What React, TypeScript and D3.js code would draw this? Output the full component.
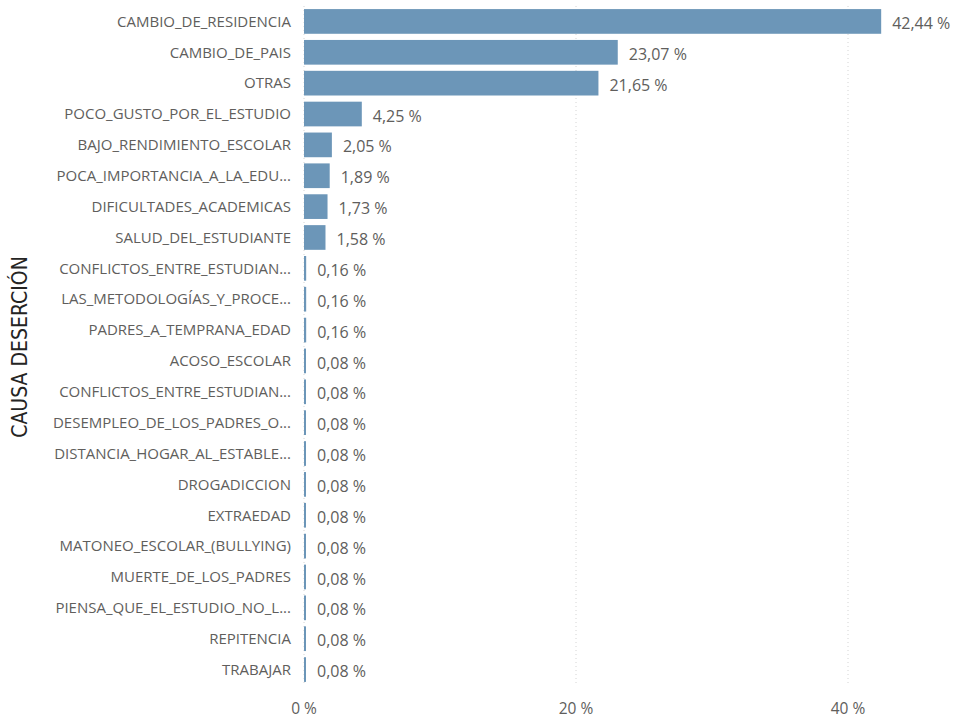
import React, { useEffect, useRef } from 'react';
import * as d3 from 'd3';

// categorías y valores (%)
const causas = [
  'CAMBIO_DE_RESIDENCIA',
  'CAMBIO_DE_PAIS',
  'OTRAS',
  'POCO_GUSTO_POR_EL_ESTUDIO',
  'BAJO_RENDIMIENTO_ESCOLAR',
  'POCA_IMPORTANCIA_A_LA_EDU...',
  'DIFICULTADES_ACADEMICAS',
  'SALUD_DEL_ESTUDIANTE',
  'CONFLICTOS_ENTRE_ESTUDIAN...',
  'LAS_METODOLOGÍAS_Y_PROCE...',
  'PADRES_A_TEMPRANA_EDAD',
  'ACOSO_ESCOLAR',
  'CONFLICTOS_ENTRE_ESTUDIAN... ',
  'DESEMPLEO_DE_LOS_PADRES_O...',
  'DISTANCIA_HOGAR_AL_ESTABLE...',
  'DROGADICCION',
  'EXTRAEDAD',
  'MATONEO_ESCOLAR_(BULLYING)',
  'MUERTE_DE_LOS_PADRES',
  'PIENSA_QUE_EL_ESTUDIO_NO_L...',
  'REPITENCIA',
  'TRABAJAR',
];
const porcentajes = [
  42.44, 23.07, 21.65, 4.25, 2.05, 1.89, 1.73, 1.58, 0.16, 0.16, 0.16, 0.08, 0.08, 0.08, 0.08, 0.08, 0.08, 0.08,
  0.08, 0.08, 0.08, 0.08,
];
const ticks = [0, 20, 40];

const W = 955;
const H = 719;
const margin = { top: 6, right: 0, bottom: 34, left: 304 };
const plotRight = 304 + 272 * 2.5; // 50 %

const fmt = (v: number) => v.toFixed(2).replace('.', ',') + ' %';
const font = '"Segoe UI", "Open Sans", sans-serif';

const Chart: React.FC = () => {
  const ref = useRef<SVGSVGElement>(null);

  useEffect(() => {
    if (!ref.current) return;
    const svg = d3.select(ref.current);
    svg.selectAll('*').remove();

    const x = d3.scaleLinear().domain([0, 50]).range([margin.left, plotRight]);
    const y = d3
      .scaleBand()
      .domain(causas)
      .range([margin.top, H - margin.bottom])
      .paddingInner(0.2)
      .paddingOuter(0.1);

    // líneas de cuadrícula punteadas
    svg
      .append('g')
      .selectAll('line')
      .data(ticks)
      .join('line')
      .attr('x1', (d) => x(d))
      .attr('x2', (d) => x(d))
      .attr('y1', margin.top)
      .attr('y2', H - margin.bottom)
      .attr('stroke', '#d4d4d4')
      .attr('stroke-width', 1)
      .attr('stroke-dasharray', '1,3');

    // barras
    svg
      .append('g')
      .selectAll('rect')
      .data(causas)
      .join('rect')
      .attr('x', x(0))
      .attr('y', (d) => y(d)!)
      .attr('width', (d, i) => Math.max(2, x(porcentajes[i]) - x(0)))
      .attr('height', y.bandwidth())
      .attr('fill', '#6c96b8');

    // etiquetas de valor
    svg
      .append('g')
      .selectAll('text')
      .data(causas)
      .join('text')
      .attr('x', (d, i) => Math.max(x(0) + 2, x(porcentajes[i])) + 11)
      .attr('y', (d) => y(d)! + y.bandwidth() / 2 + 2)
      .attr('dy', '0.35em')
      .attr('fill', '#605e5c')
      .style('font-family', font)
      .style('font-size', '16px')
      .text((d, i) => fmt(porcentajes[i]));

    // etiquetas de categoría
    svg
      .append('g')
      .selectAll('text')
      .data(causas)
      .join('text')
      .attr('x', 291)
      .attr('y', (d) => y(d)! + y.bandwidth() / 2)
      .attr('dy', '0.35em')
      .attr('text-anchor', 'end')
      .attr('fill', '#605e5c')
      .style('font-family', font)
      .style('font-size', '15px')
      .text((d) => d.trim());

    // eje x
    svg
      .append('g')
      .selectAll('text')
      .data(ticks)
      .join('text')
      .attr('x', (d) => x(d))
      .attr('y', 709)
      .attr('dy', '0.35em')
      .attr('text-anchor', 'middle')
      .attr('fill', '#605e5c')
      .style('font-family', font)
      .style('font-size', '15.5px')
      .text((d) => d + ' %');

    // título del eje y
    svg
      .append('text')
      .attr('transform', `translate(27,347) rotate(-90)`)
      .attr('text-anchor', 'middle')
      .attr('fill', '#252423')
      .style('font-family', '"DejaVu Sans", sans-serif')
      .style('font-stretch', 'condensed')
      .style('font-size', '21px')
      .text('CAUSA DESERCIÓN');
  }, []);

  return <svg ref={ref} width={W} height={H} style={{ display: 'block' }} />;
};

export default function App() {
  return (
    <div style={{ position: 'absolute', left: 0, top: 0 }}>
      <Chart />
    </div>
  );
}
